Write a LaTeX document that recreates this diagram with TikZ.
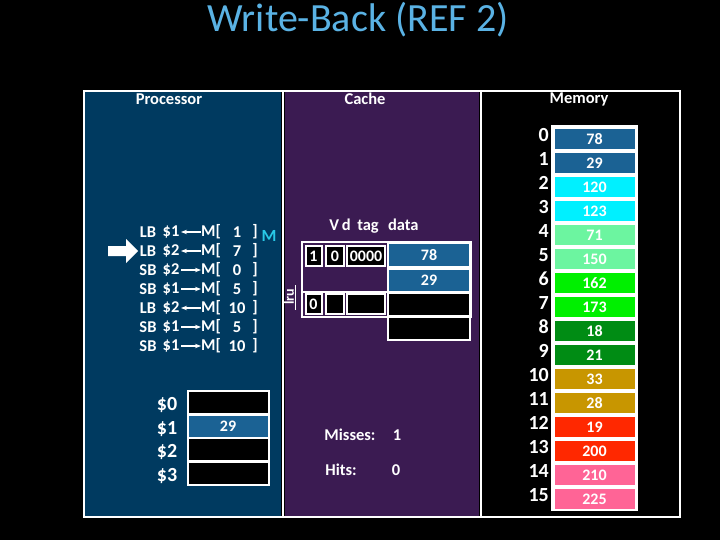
\documentclass[tikz,border=0pt]{standalone}
\usepackage{fontspec}
\setmainfont{Carlito}
\usetikzlibrary{arrows.meta}
\definecolor{proc}{HTML}{003A60}
\definecolor{cach}{HTML}{3B1B52}
\definecolor{cblue}{HTML}{1B6294}
\definecolor{ttl}{HTML}{5AB2E4}
\definecolor{c2}{HTML}{00F0FF}
\definecolor{c4}{HTML}{6CF5A0}
\definecolor{c6}{HTML}{00F000}
\definecolor{c8}{HTML}{008C14}
\definecolor{c10}{HTML}{C89600}
\definecolor{c12}{HTML}{FF2800}
\definecolor{c14}{HTML}{FF6496}
\definecolor{mcyan}{HTML}{28C8E6}
\tikzset{
 txt/.style={text=white,font=\bfseries\fontsize{16.5}{18}\selectfont,inner sep=0pt},
 cell/.style={draw=white,line width=2pt,fill=black,inner sep=0pt,text=white,font=\bfseries\fontsize{16}{18}\selectfont},
}
\begin{document}
\begin{tikzpicture}[x=1pt,y=-1pt]
\fill[black] (0,0) rectangle (720,540);
\useasboundingbox (0,0) rectangle (720,540);
\node[text=ttl,font=\fontsize{40}{44}\selectfont,inner sep=0pt] (title) at (358,20) {Write-Back (REF 2)};
\draw[white,line width=1.5pt] (84,91) rectangle (680,517);
\fill[proc] (85,92) rectangle (281,516);
\fill[cach] (285,92) rectangle (479,516);
\draw[white,line width=1.5pt] (283,91)--(283,517) (481,91)--(481,517);
\node[txt] (hp) at (169,99) {Processor};
\node[txt] (hc) at (365,99) {Cache};
\node[txt] (hm) at (579,99) {Memory};
% instructions
\foreach \op/\r/\ar/\n [count=\i from 0] in {LB/1/0/1,LB/2/0/7,SB/2/1/0,SB/1/1/5,LB/2/0/10,SB/1/1/5,SB/1/1/10}{
 \pgfmathsetmacro{\yy}{232+19*\i}
 \node[txt] (op\i) at (148,\yy) {\op};
 \node[txt] (rg\i) at (171,\yy) {\$\r};
 \node[txt] (mm\i) at (211,\yy) {M[};
 \node[txt] (nn\i) at (237,\yy) {\n};
 \node[txt] (br\i) at (255,\yy) {]};
 \ifnum\ar=0 \draw[white,line width=1.3pt,-{Stealth[length=6pt]}] (201,\yy) -- (181,\yy);
 \else \draw[white,line width=1.3pt,-{Stealth[length=6pt]}] (181,\yy) -- (201,\yy); \fi
}
\node[text=mcyan,font=\bfseries\fontsize{17}{19}\selectfont,inner sep=0pt] (mflag) at (269,236) {M};
\fill[white] (108,246) -- (126,246) -- (126,239) -- (138,251) -- (126,263) -- (126,256) -- (108,256) -- cycle;
% registers
\foreach \r/\y in {0/402,1/426,2/449,3/473}{
 \node[text=white,font=\bfseries\fontsize{20}{22}\selectfont,inner sep=0pt] (rl\r) at (167,\y+3) {\$\r};
}
\node[cell,minimum width=81pt,minimum height=23pt] (r0) at (228.5,402) {};
\node[cell,fill=cblue,minimum width=81pt,minimum height=23pt] (r1) at (228.5,426) {};
\node[txt,font=\bfseries\fontsize{16}{18}\selectfont] at (228,426) {29};
\node[cell,minimum width=81pt,minimum height=23pt] (r2) at (228.5,449) {};
\node[cell,minimum width=81pt,minimum height=23pt] (r3) at (228.5,473) {};
% cache
\node[txt,font=\bfseries\fontsize{16.5}{18}\selectfont] (hdr) at (374,226) {V\,d\, tag\,\, data};
\draw[white,line width=2pt] (302,242) rectangle (471,292);
\draw[white,line width=2pt] (302,292) rectangle (471,317);
\node[cell,minimum width=16pt,minimum height=20pt] (v1) at (313.5,256) {1};
\node[cell,minimum width=18pt,minimum height=20pt] (d1) at (335,256) {0};
\node[cell,minimum width=38pt,minimum height=20pt] (t1) at (366,256) {0000};
\node[cell,fill=cblue,minimum width=82pt,minimum height=24pt] (a1) at (429,255) {78};
\node[cell,fill=cblue,minimum width=82pt,minimum height=23pt] (a2) at (429,280) {29};
\node[cell,minimum width=16pt,minimum height=20pt] (v2) at (313.5,304) {0};
\node[cell,minimum width=18pt,minimum height=20pt] (d2) at (335,304) {};
\node[cell,minimum width=38pt,minimum height=20pt] (t2) at (366,304) {};
\node[cell,minimum width=82pt,minimum height=23pt] (a3) at (429,304) {};
\node[cell,minimum width=82pt,minimum height=23pt] (a4) at (429,328) {};
\node[txt,rotate=90,font=\bfseries\fontsize{14}{16}\selectfont] (lru) at (289,297) {lru};
\draw[white,line width=1pt] (295,285) -- (295,310);
\node[txt] (miss) at (350,435) {Misses:};
\node[txt] (missv) at (397,435) {1};
\node[txt] (hits) at (341,470) {Hits:};
\node[txt] (hitsv) at (396,470) {0};
% memory
\fill[white] (551,125) rectangle (638,511);
\foreach \v/\c [count=\i from 0] in {78/cblue,29/cblue,120/c2,123/c2,71/c4,150/c4,162/c6,173/c6,18/c8,21/c8,33/c10,28/c10,19/c12,200/c12,210/c14,225/c14}{
 \pgfmathsetmacro{\yy}{139+24*\i}
 \node[fill=\c,minimum width=80pt,minimum height=20pt,inner sep=0pt,text=white,font=\bfseries\fontsize{16}{18}\selectfont] (m\i) at (594.5,\yy) {\v};
 \node[text=white,font=\bfseries\fontsize{20}{22}\selectfont,inner sep=0pt,anchor=east] (ml\i) at (549,\yy-4) {\i};
}
\end{tikzpicture}
\end{document}
